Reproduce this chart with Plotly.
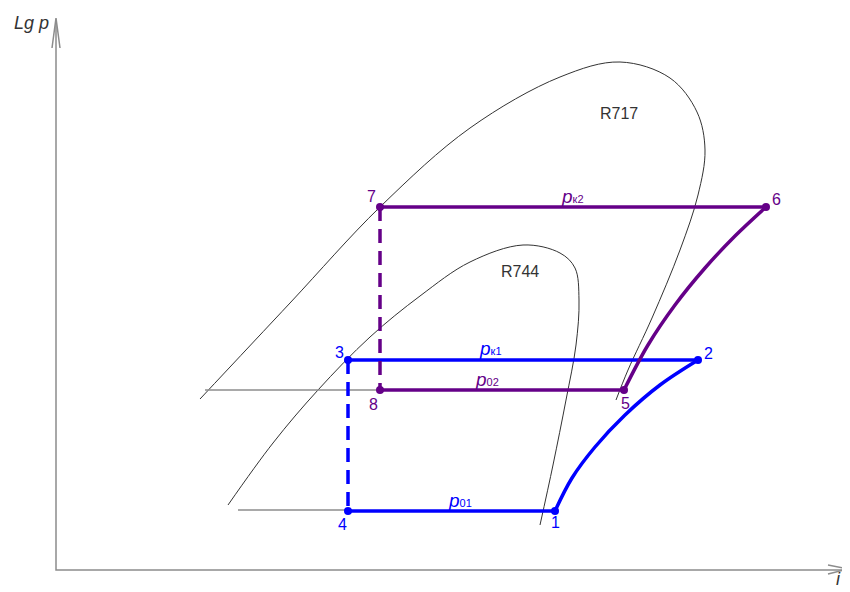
import plotly.graph_objects as go

# diagram coordinates (x -> enthalpy i, y -> lg p, screen-like units, y grows downward)
r717_x = [200, 290, 380, 470, 560, 620, 670, 697, 705, 698, 680, 652, 628, 616]
r717_y = [399, 303, 207, 128, 77, 62, 78, 112, 150, 195, 250, 318, 370, 400]
r744_x = [228, 273, 318, 370, 420, 470, 523, 560, 575, 579, 576, 566, 553, 540]
r744_y = [505, 443, 390, 337, 296, 262, 245, 253, 268, 300, 345, 400, 465, 525]

# R744 cycle (blue): points 1..4
c1_x = [555, 698, 348, 348]
c1_y = [511, 360, 360, 511]
comp1_x = [555, 572, 595, 625, 660, 698]
comp1_y = [511, 478, 447, 415, 385, 360]

# R717 cycle (purple): points 5..8
c2_x = [624, 766, 380, 380]
c2_y = [390, 207, 207, 390]
comp2_x = [624, 648, 675, 705, 735, 766]
comp2_y = [390, 345, 305, 268, 236, 207]

blue = "#0000ff"
purple = "#650088"
grey = "#8c8c8c"

fig = go.Figure()

# saturation domes
fig.add_trace(go.Scatter(x=r717_x, y=r717_y, mode="lines", line=dict(color="#333", width=1, shape="spline")))
fig.add_trace(go.Scatter(x=r744_x, y=r744_y, mode="lines", line=dict(color="#333", width=1, shape="spline")))

# grey extensions of the evaporation lines
fig.add_trace(go.Scatter(x=[205, 380], y=[390, 390], mode="lines", line=dict(color=grey, width=1.5)))
fig.add_trace(go.Scatter(x=[238, 348], y=[510, 510], mode="lines", line=dict(color=grey, width=1.5)))

# axes with open arrow heads
fig.add_trace(go.Scatter(x=[56, 56, 847], y=[20, 570, 570], mode="lines", line=dict(color=grey, width=1.5)))
fig.add_trace(go.Scatter(x=[52, 56, 60], y=[48, 18, 48], mode="lines", line=dict(color=grey, width=1.5)))
fig.add_trace(go.Scatter(x=[828, 848, 828], y=[565, 569, 574], mode="lines", line=dict(color=grey, width=1.5)))

# blue cycle
fig.add_trace(go.Scatter(x=[c1_x[3], c1_x[0]], y=[c1_y[3], c1_y[0]], mode="lines", line=dict(color=blue, width=3.5)))
fig.add_trace(go.Scatter(x=comp1_x, y=comp1_y, mode="lines", line=dict(color=blue, width=3.5, shape="spline")))
fig.add_trace(go.Scatter(x=[c1_x[1], c1_x[2]], y=[c1_y[1], c1_y[2]], mode="lines", line=dict(color=blue, width=3.5)))
fig.add_trace(go.Scatter(x=[c1_x[2], c1_x[3]], y=[c1_y[2], c1_y[3]], mode="lines", line=dict(color=blue, width=3.5, dash="14px,8px")))
fig.add_trace(go.Scatter(x=c1_x, y=c1_y, mode="markers", marker=dict(color=blue, size=8)))

# purple cycle
fig.add_trace(go.Scatter(x=[c2_x[3], c2_x[0]], y=[c2_y[3], c2_y[0]], mode="lines", line=dict(color=purple, width=3.5)))
fig.add_trace(go.Scatter(x=comp2_x, y=comp2_y, mode="lines", line=dict(color=purple, width=3.5, shape="spline")))
fig.add_trace(go.Scatter(x=[c2_x[1], c2_x[2]], y=[c2_y[1], c2_y[2]], mode="lines", line=dict(color=purple, width=3.5)))
fig.add_trace(go.Scatter(x=[c2_x[2], c2_x[3]], y=[c2_y[2], c2_y[3]], mode="lines", line=dict(color=purple, width=3.5, dash="14px,8px")))
fig.add_trace(go.Scatter(x=c2_x, y=c2_y, mode="markers", marker=dict(color=purple, size=8)))

font = "Liberation Sans, Arial, sans-serif"

# point numbers
num_x = [555, 708, 339, 342, 625, 776, 371, 373]
num_y = [522, 353, 352, 524, 403, 199, 196, 404]
num_txt = ["1", "2", "3", "4", "5", "6", "7", "8"]
num_col = [blue] * 4 + [purple] * 4
for x, y, t, c in zip(num_x, num_y, num_txt, num_col):
    fig.add_annotation(x=x, y=y, text=t, showarrow=False, font=dict(family=font, size=16, color=c))

# pressure labels
p_x = [490, 487, 460, 572]
p_y = [348, 379, 500, 196]
p_txt = ["<i>p</i><span style='font-size:11px'>к1</span>",
         "<i>p</i><span style='font-size:11px'>02</span>",
         "<i>p</i><span style='font-size:11px'>01</span>",
         "<i>p</i><span style='font-size:11px'>к2</span>"]
p_col = [blue, purple, blue, purple]
for x, y, t, c in zip(p_x, p_y, p_txt, p_col):
    fig.add_annotation(x=x, y=y, text=t, showarrow=False, font=dict(family=font, size=19, color=c))

fig.add_annotation(x=619, y=113, text="R717", showarrow=False, font=dict(family=font, size=16, color="#333"))
fig.add_annotation(x=520, y=271, text="R744", showarrow=False, font=dict(family=font, size=16, color="#333"))
fig.add_annotation(x=31, y=23, text="<i>Lg p</i>", showarrow=False, font=dict(family=font, size=18, color="#333"))
fig.add_annotation(x=838, y=579, text="<i>i</i>", showarrow=False, font=dict(family=font, size=18, color="#333"))

# the page body adds an 8px margin, so the figure is sized and ranged to fit the window
fig.update_xaxes(range=[8, 850], visible=False)
fig.update_yaxes(range=[592, 8], visible=False)
fig.update_layout(width=842, height=584, margin=dict(l=0, r=0, t=0, b=0),
                  plot_bgcolor="white", paper_bgcolor="white", showlegend=False)

fig.write_html("out.html")
